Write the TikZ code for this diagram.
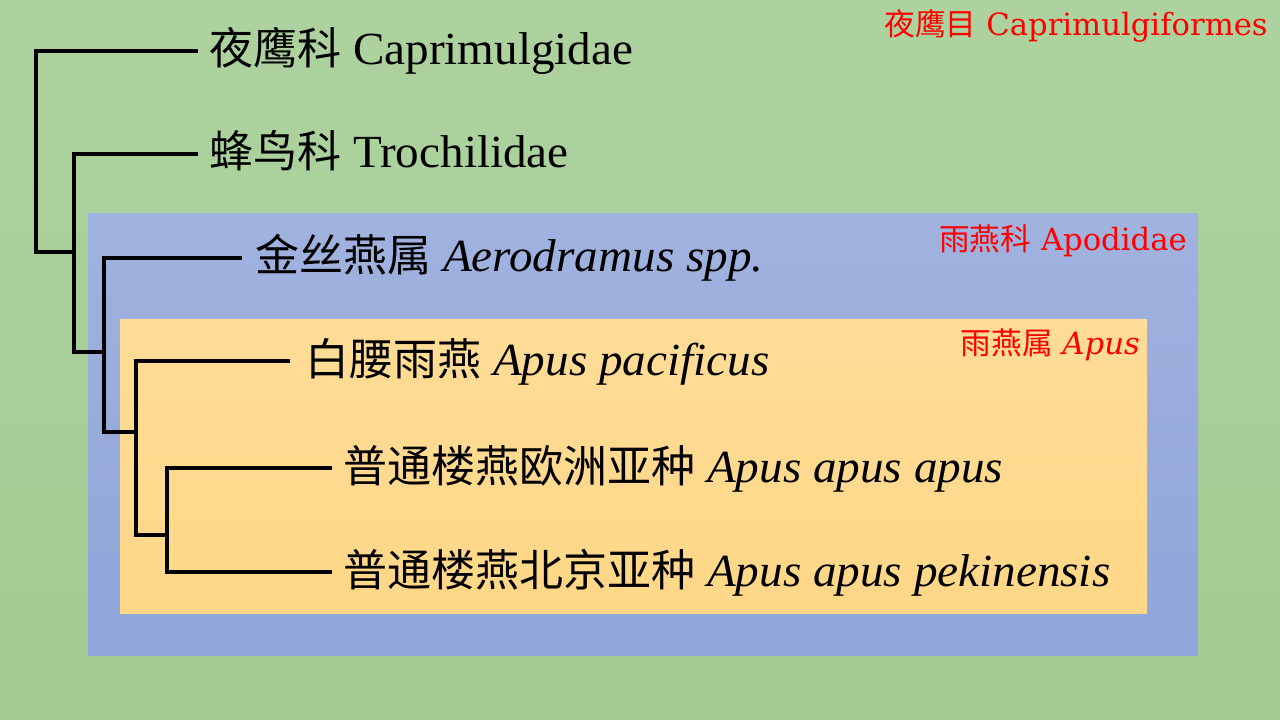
\documentclass[tikz,border=0pt]{standalone}
\usepackage{fontspec}
\setmainfont{Liberation Serif}[FakeStretch=1.025]
\newfontfamily\cjk{Noto Sans CJK SC}
\newfontfamily\redfont{DejaVu Serif}
\definecolor{bgtop}{HTML}{B3D5A6}
\definecolor{bgbot}{HTML}{9DC98A}
\definecolor{bltop}{HTML}{A9B9E1}
\definecolor{blbot}{HTML}{879ED6}
\definecolor{ortop}{HTML}{FFDF9F}
\definecolor{orbot}{HTML}{FFD47F}
\pgfdeclareverticalshading{bgsh}{100bp}{color(0bp)=(bgbot); color(100bp)=(bgtop)}
\pgfdeclareverticalshading{blsh}{100bp}{color(0bp)=(blbot); color(100bp)=(bltop)}
\pgfdeclareverticalshading{orsh}{100bp}{color(0bp)=(orbot); color(100bp)=(ortop)}
\newcommand{\zh}[1]{{\fontsize{33}{40}\selectfont\cjk #1}}
\newcommand{\rzh}[1]{{\fontsize{23}{27}\selectfont\cjk #1}}
\begin{document}
\begin{tikzpicture}[x=0.75pt,y=-0.75pt,
  leaf/.style={anchor=base west, inner sep=0pt, font=\fontsize{34.5}{40}\selectfont},
  tag/.style={anchor=base east, inner sep=0pt, text=red, font=\fontsize{23}{27}\selectfont\redfont},
  branch/.style={line width=2.3pt, black, line join=miter}]
\useasboundingbox (0,0) rectangle (1280,720);
\shade[shading=bgsh] (0,0) rectangle (1280,720);
\shade[shading=blsh] (88,214) rectangle (1198,655);
\shade[shading=orsh] (120,319) rectangle (1147,613);
% labels of groups
\node[tag] (g1) at (1268,36) {\rzh{夜鹰目} Caprimulgiformes};
\node[tag] (g2) at (1187,251) {\rzh{雨燕科} Apodidae};
\node[tag] (g3) at (1140,354) {\rzh{雨燕属} \textit{Apus}};
% leaves
\node[leaf] (n1) at (209,65) {\zh{夜鹰科} Caprimulgidae};
\node[leaf] (n2) at (209,168) {\zh{蜂鸟科} Trochilidae};
\node[leaf] (n3) at (255,272) {\zh{金丝燕属} \textit{Aerodramus spp.}};
\node[leaf] (n4) at (305,375) {\zh{白腰雨燕} \textit{Apus pacificus}};
\node[leaf] (n5) at (343,482) {\zh{普通楼燕欧洲亚种} \textit{Apus apus apus}};
\node[leaf] (n6) at (343,586) {\zh{普通楼燕北京亚种} \textit{Apus apus pekinensis}};
% branch ends
\coordinate (e1) at (198,51);
\coordinate (e2) at (198,154);
\coordinate (e3) at (242,258);
\coordinate (e4) at (290,361);
\coordinate (e5) at (332,468);
\coordinate (e6) at (332,572);
% junctions
\coordinate (b0) at (36,252);  \coordinate (k1) at (74,252);
\coordinate (b1) at (74,352);  \coordinate (k2) at (104,352);
\coordinate (b2) at (104,432); \coordinate (k3) at (136,432);
\coordinate (b3) at (136,535); \coordinate (k4) at (167,535);
\coordinate (b4) at (167,572);
\draw[branch] (e1) -| (b0) -- (k1);
\draw[branch] (e2) -| (b1) -- (k2);
\draw[branch] (e3) -| (b2) -- (k3);
\draw[branch] (e4) -| (b3) -- (k4);
\draw[branch] (e5) -| (b4) -- (e6);
\end{tikzpicture}
\end{document}
